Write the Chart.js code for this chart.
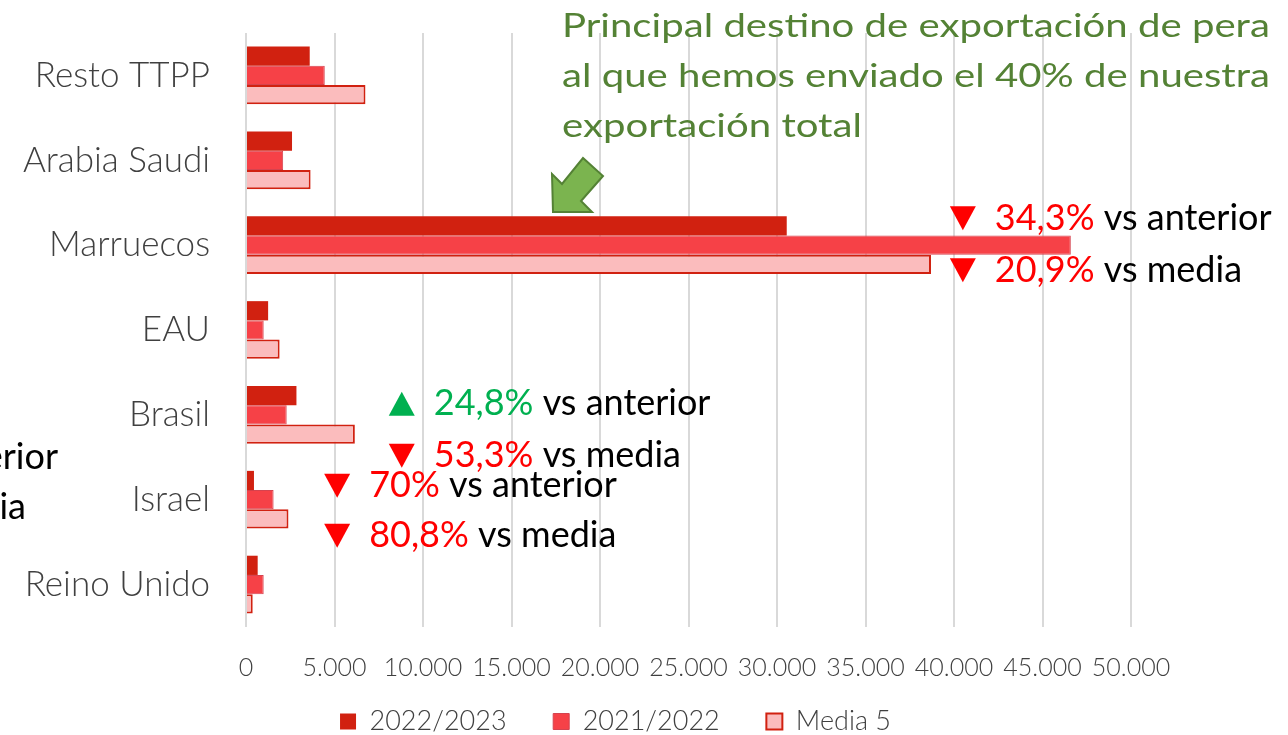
<!DOCTYPE html>
<html>
<head>
<meta charset="utf-8">
<script src="https://cdn.jsdelivr.net/npm/chart.js@4/dist/chart.umd.min.js"></script>
<style>
  html, body { margin: 0; padding: 0; background: #ffffff; overflow: hidden; }
  #chartBox { width: 1288px; height: 735px; }
</style>
</head>
<body>
<div id="chartBox"><canvas id="exportChart" width="1288" height="735"></canvas></div>
<script>
// destinos (de arriba a abajo)
var categories = ['Resto TTPP', 'Arabia Saudi', 'Marruecos', 'EAU', 'Brasil', 'Israel', 'Reino Unido'];
var seriesNames = ['2022/2023', '2021/2022', 'Media 5'];
var values2223 = [3600, 2600, 30550, 1250, 2850, 450, 660];
var values2122 = [4450, 2100, 46600, 1000, 2300, 1560, 1000];
var valuesMedia = [6750, 3650, 38700, 1900, 6150, 2400, 380];
var xTicks = [0, 5000, 10000, 15000, 20000, 25000, 30000, 35000, 40000, 45000, 50000];

// notas de variación: categoría, valor en el eje x para el triángulo, textos
var notes = [
    { cat: 'Marruecos', at: 40500, lines: [
        { up: false, pct: '34,3%', rest: 'vs anterior', dy: -27 },
        { up: false, pct: '20,9%', rest: 'vs media', dy: 25 } ] },
    { cat: 'Brasil', at: 8800, lines: [
        { up: true, pct: '24,8%', rest: 'vs anterior', dy: -11 },
        { up: false, pct: '53,3%', rest: 'vs media', dy: 41 } ] },
    { cat: 'Israel', at: 5150, lines: [
        { up: false, pct: '70%', rest: 'vs anterior', dy: -14 },
        { up: false, pct: '80,8%', rest: 'vs media', dy: 36 } ] }
];
var calloutLines = [
    'Principal destino de exportación de pera',
    'al que hemos enviado el 40% de nuestra',
    'exportación total'
];

var red = '#ff0000';
var green = '#00b050';

function formatThousands(v) {
    return String(v).replace(/\B(?=(\d{3})+(?!\d))/g, '.');
}

function triangle(ctx, cx, cy, up, color) {
    ctx.fillStyle = color;
    ctx.beginPath();
    if (up) {
        ctx.moveTo(cx, cy - 12);
        ctx.lineTo(cx + 13, cy + 12);
        ctx.lineTo(cx - 13, cy + 12);
    } else {
        ctx.moveTo(cx - 13, cy - 12);
        ctx.lineTo(cx + 13, cy - 12);
        ctx.lineTo(cx, cy + 12);
    }
    ctx.closePath();
    ctx.fill();
}

// mover la leyenda para que quede como en el original
var legendShift = {
    id: 'legendShift',
    afterLayout: function (chart) {
        var lg = chart.legend;
        lg.left += 50; lg.right += 50;
        lg.top += 10; lg.bottom += 10;
    }
};

var notesPlugin = {
    id: 'notes',
    afterDraw: function (chart) {
        var ctx = chart.ctx;
        var xs = chart.scales.x;
        var ys = chart.scales.y;
        ctx.save();
        ctx.textBaseline = 'middle';
        ctx.font = '36px Lato';

        notes.forEach(function (note) {
            var cx = xs.getPixelForValue(note.at);
            var cy = ys.getPixelForValue(categories.indexOf(note.cat));
            note.lines.forEach(function (ln) {
                var y = cy + ln.dy;
                var col = ln.up ? green : red;
                triangle(ctx, cx, y, ln.up, col);
                ctx.textAlign = 'left';
                ctx.fillStyle = col;
                ctx.fillText(ln.pct, cx + 32, y);
                var w = ctx.measureText(ln.pct + ' ').width;
                ctx.fillStyle = '#000000';
                ctx.fillText(ln.rest, cx + 32 + w, y);
            });
        });

        // restos de otra nota cortada a la izquierda
        ctx.textAlign = 'right';
        ctx.fillStyle = '#000000';
        ctx.fillText('vs anterior', 58, 457);
        ctx.fillText('vs media', 26, 507);

        // nota manuscrita
        ctx.textAlign = 'left';
        ctx.fillStyle = '#548235';
        ctx.font = '33px Lato';
        var target = 708;
        var w2 = ctx.measureText(calloutLines[1]).width;
        var sx = target / w2;
        calloutLines.forEach(function (txt, i) {
            ctx.save();
            ctx.translate(562, 26 + i * 50);
            ctx.scale(sx, 1);
            ctx.fillText(txt, 0, 0);
            ctx.restore();
        });

        // flecha verde
        ctx.beginPath();
        ctx.moveTo(553, 212);
        ctx.lineTo(552, 174);
        ctx.lineTo(562, 184);
        ctx.lineTo(583, 158);
        ctx.lineTo(603, 176);
        ctx.lineTo(581, 201);
        ctx.lineTo(592, 212);
        ctx.closePath();
        ctx.fillStyle = '#7bb44f';
        ctx.fill();
        ctx.lineWidth = 2;
        ctx.strokeStyle = '#548235';
        ctx.stroke();
        ctx.restore();
    }
};

var ctx = document.getElementById('exportChart');
var exportChart = new Chart(ctx, {
    type: 'bar',
    data: {
        labels: categories,
        datasets: [
            {
                label: seriesNames[0],
                data: values2223,
                backgroundColor: '#d12110',
                borderColor: '#d12110',
                borderWidth: 0
            },
            {
                label: seriesNames[1],
                data: values2122,
                backgroundColor: '#f64147',
                borderColor: '#d5434f',
                borderWidth: 1
            },
            {
                label: seriesNames[2],
                data: valuesMedia,
                backgroundColor: '#fbbcbd',
                borderColor: '#d12110',
                borderWidth: 2
            }
        ]
    },
    options: {
        indexAxis: 'y',
        responsive: false,
        animation: false,
        devicePixelRatio: 1,
        categoryPercentage: 0.68,
        barPercentage: 1,
        layout: { padding: { top: 33, right: 157, left: 0, bottom: 0 } },
        plugins: {
            legend: {
                position: 'bottom',
                labels: {
                    font: { family: 'Lato', size: 27, weight: '300' },
                    color: '#404040',
                    boxWidth: 16,
                    boxHeight: 16,
                    padding: 10,
                    generateLabels: function (chart) {
                        var items = Chart.defaults.plugins.legend.labels.generateLabels(chart);
                        items.forEach(function (it, i) {
                            if (i < items.length - 1) it.text = it.text + '     ';
                        });
                        return items;
                    }
                }
            },
            tooltip: { enabled: false },
            title: { display: false }
        },
        scales: {
            x: {
                min: 0,
                max: 50000,
                afterBuildTicks: function (scale) {
                    scale.ticks = xTicks.map(function (v) { return { value: v }; });
                },
                afterFit: function (scale) { scale.height = 61; },
                ticks: {
                    callback: function (v) { return v === 0 ? '0' : formatThousands(v); },
                    font: { family: 'Lato', size: 25, weight: '300' },
                    color: '#404040',
                    padding: 26,
                    maxRotation: 0,
                    autoSkip: false
                },
                grid: { color: '#d9d9d9', lineWidth: 2, drawTicks: false },
                border: { display: false }
            },
            y: {
                afterFit: function (scale) {
                    scale.width = 246;
                    scale.paddingTop = 0;
                    scale.paddingBottom = 0;
                },
                ticks: {
                    font: { family: 'Lato', size: 35, weight: '300' },
                    color: '#404040',
                    padding: 28
                },
                grid: { display: false },
                border: { display: false }
            }
        }
    },
    plugins: [legendShift, notesPlugin]
});
</script>
</body>
</html>
